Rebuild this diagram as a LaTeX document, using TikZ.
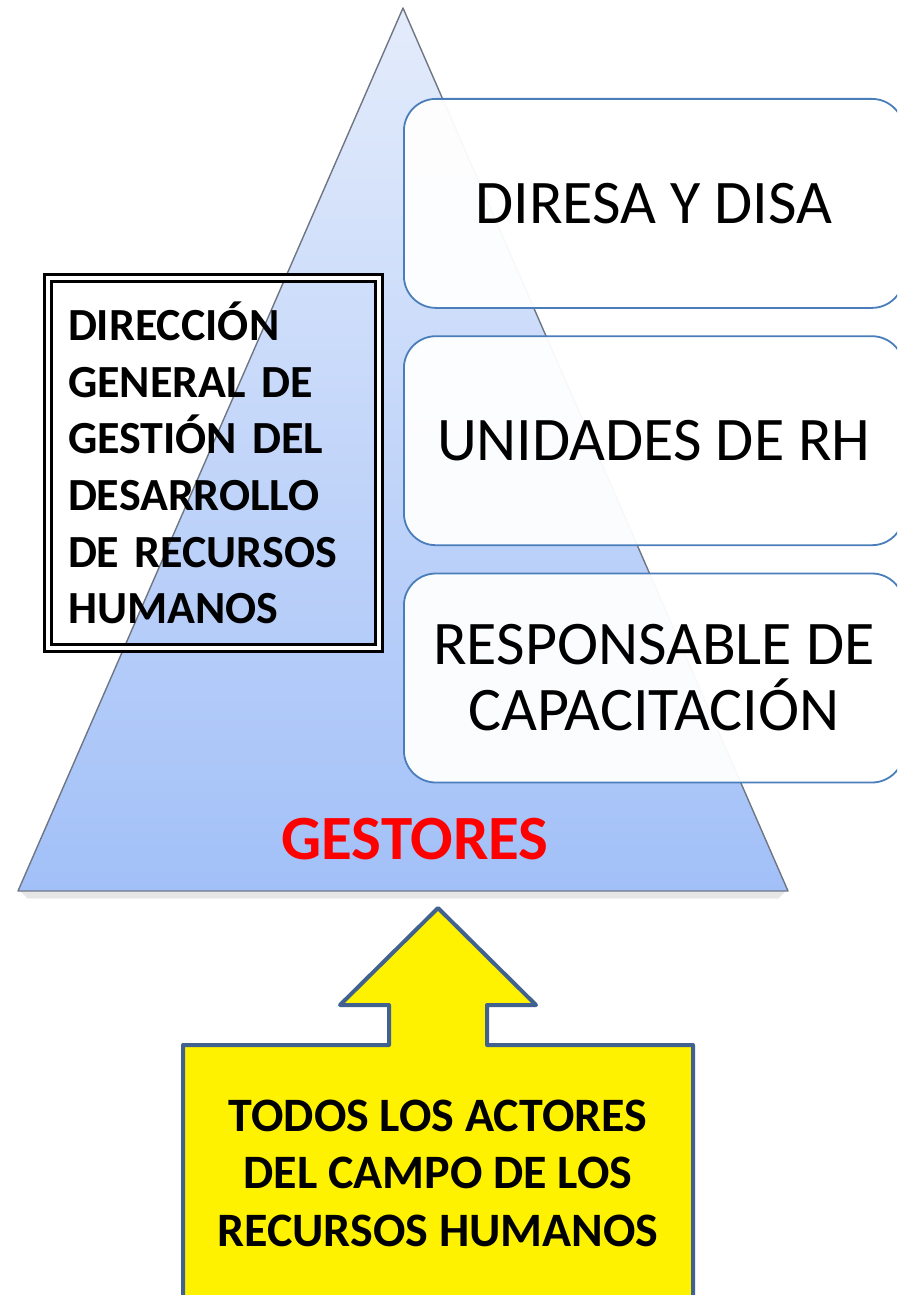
\documentclass[tikz,border=0pt]{standalone}
\usepackage{fontspec}
\setmainfont{Carlito}
\usetikzlibrary{positioning}

\definecolor{pyrtop}{HTML}{E4ECFB}
\definecolor{pyrbot}{HTML}{A2C0F8}
\definecolor{pyredge}{HTML}{6F7683}
\definecolor{boxblue}{HTML}{4A7EBB}
\definecolor{arrowblue}{HTML}{41628F}

\begin{document}
\begin{tikzpicture}[x=1pt,y=-1pt,node distance=26.5pt,
    level box/.style={draw=boxblue,line width=1.8pt,rounded corners=32pt,fill=white,
      fill opacity=0.95,text opacity=1,minimum width=500pt,minimum height=209pt,
      align=center,inner sep=0pt,font=\fontsize{62}{66}\selectfont},
    head box/.style={draw=black,line width=2.6pt,double=white,double distance=4.5pt,
      minimum width=331pt,minimum height=370pt,inner sep=0pt,text width=291pt,align=left,
      font=\bfseries\fontsize{46}{56.6}\selectfont},
    base text/.style={inner sep=0pt,align=center,font=\bfseries\fontsize{48}{57.5}\selectfont}]
  \useasboundingbox (0,0) rectangle (897,1295);
  \clip (0,0) rectangle (897,1295);
  % pyramid
  \foreach \k in {1,...,7}
    \draw[black,opacity=0.05,line width=1.2pt] (20+\k,891+\k) -- (786-\k,891+\k);
  \shade[top color=pyrtop,bottom color=pyrbot] (403,8) -- (788,891) -- (18,891) -- cycle;
  \draw[pyredge,line width=1.4pt,line join=round] (403,8) -- (788,891) -- (18,891) -- cycle;
  \node[text=red,inner sep=0pt,font=\bfseries\fontsize{63}{66}\selectfont] (gestores) at (415,839) {GESTORES};

  % levels
  \node[level box,anchor=north west] (diresa) at (403,98) {DIRESA Y DISA};
  \node[level box,below=of diresa] (unidades) {UNIDADES DE RH};
  \node[level box,below=of unidades] (capacitacion) {RESPONSABLE DE\\CAPACITACIÓN};

  \node[head box] (direccion) at (213.5,463) {DIRECCIÓN\\GENERAL DE\\GESTIÓN DEL\\DESARROLLO\\DE RECURSOS\\HUMANOS};

  % arrow
  \draw[arrowblue,fill=yellow,line width=4pt,line join=round]
    (183,1310) -- (183,1045) -- (389,1045) -- (389,1005) -- (340,1005) -- (438,908)
    -- (536,1005) -- (487,1005) -- (487,1045) -- (693,1045) -- (693,1310);
  \node[base text] (actores) at (438,1173) {TODOS LOS ACTORES\\DEL CAMPO DE LOS\\RECURSOS HUMANOS};
\end{tikzpicture}
\end{document}
